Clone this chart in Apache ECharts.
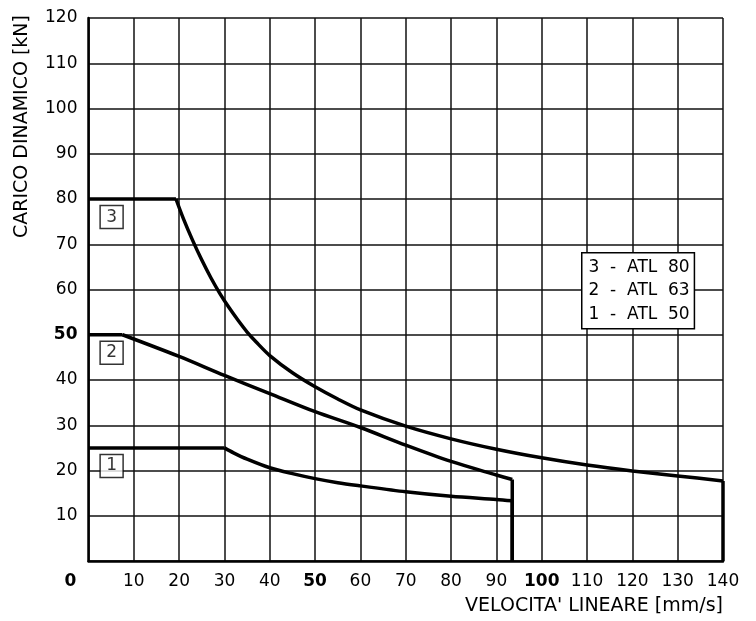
<!DOCTYPE html>
<html>
<head>
<meta charset="utf-8">
<script src="https://cdn.jsdelivr.net/npm/echarts@6/dist/echarts.min.js"></script>
<style>
html,body{margin:0;padding:0;background:#fff;}
#main{width:756px;height:621px;}
</style>
</head>
<body>
<div id="main"></div>
<script>
// valori
var boldTicks = [0, 50, 100];
var legendLines = ['3  -  ATL  80', '2  -  ATL  63', '1  -  ATL  50'];

// ATL 80
var flat3 = 80, knee3 = 19.3, vmax3 = 140;
var v3 = [19.3, 21, 23, 25, 27, 29, 31, 33, 35, 37, 40, 45, 50, 55, 60, 70, 80, 90, 100, 110, 120, 130, 140];
var f3 = [80, 75.5, 70.8, 66.5, 62.6, 59.1, 56, 53.2, 50.6, 48.4, 45.4, 41.6, 38.5, 35.8, 33.4, 29.8, 27, 24.7, 22.8, 21.2, 19.9, 18.8, 17.7];
// ATL 63
var flat2 = 50, knee2 = 7.5, vmax2 = 93.5;
var v2 = [7.5, 20, 30, 40, 50, 60, 70, 80, 90, 93.5];
var f2 = [50, 45.2, 41, 37, 33, 29.5, 25.6, 22, 19, 18];
// ATL 50
var flat1 = 25, knee1 = 30, vmax1 = 93.5;
var v1 = [30, 32, 35, 40, 45, 50, 55, 60, 70, 80, 90, 93.5];
var f1 = [25, 23.9, 22.5, 20.6, 19.3, 18.2, 17.3, 16.6, 15.3, 14.3, 13.6, 13.3];

// etichette 1-2-3
var tagX = [5.1, 5.1, 5.1];
var tagY = [21, 46, 76];
var tagText = ['1', '2', '3'];

var FONT = 'DejaVu Sans';
var chart = echarts.init(document.getElementById('main'));

function pairs(xs, ys){
	var out = [];
	for(var i=0;i<xs.length;i++){
		out.push([xs[i], ys[i]]);
	}
	return out;
}

var lineStyle = {color:'#000', width:3.5};
function seg(data, smooth){
	return {
		type:'line', data:data, symbol:'none', smooth:smooth || false,
		lineStyle:lineStyle, z:5, silent:true
	};
}

var series = [];
// profilo 3
series.push(seg([[0, flat3], [knee3, flat3]]));
series.push(seg(pairs(v3, f3), 0.3));
series.push(seg([[vmax3, f3[f3.length-1]], [vmax3, 0]]));
// profilo 2
series.push(seg([[0, flat2], [knee2, flat2]]));
series.push(seg(pairs(v2, f2), 0.3));
series.push(seg([[vmax2, f2[f2.length-1]], [vmax2, 0]]));
// profilo 1
series.push(seg([[0, flat1], [knee1, flat1]]));
series.push(seg(pairs(v1, f1), 0.3));
series.push(seg([[vmax1, f1[f1.length-1]], [vmax1, 0]]));

var tags = [];
for(var i=0;i<tagX.length;i++){
	tags.push([tagX[i], tagY[i], tagText[i]]);
}
series.push({
	type:'scatter', data:tags, symbol:'rect', symbolSize:[23,23], z:6, silent:true,
	itemStyle:{color:'#fff', borderColor:'#000', borderWidth:1.5},
	label:{show:true, position:'inside', color:'#000', fontFamily:FONT, fontSize:17,
		formatter:function(p){ return p.data[2]; }}
});

var option = {
	animation:false,
	backgroundColor:'#fff',
	grid:{left:88.5, right:33, top:18, bottom:60},
	xAxis:{
		type:'value', min:0, max:140, interval:10,
		axisLine:{lineStyle:{color:'#000', width:2.5}},
		axisTick:{show:false},
		splitLine:{lineStyle:{color:'#111', width:1.5}},
		axisLabel:{
			margin:12, color:'#000', fontFamily:FONT, fontSize:17,
			formatter:function(v){
				if(v === 0){ return '{z|0}'; }
				if(boldTicks.indexOf(v) >= 0){ return '{b|' + v + '}'; }
				return '' + v;
			},
			rich:{
				z:{fontWeight:'bold', fontFamily:FONT, fontSize:17, color:'#000', padding:[0,36,0,0]},
				b:{fontWeight:'bold', fontFamily:FONT, fontSize:17, color:'#000'}
			}
		}
	},
	yAxis:{
		type:'value', min:0, max:120, interval:10,
		axisLine:{show:true, lineStyle:{color:'#000', width:2.5}},
		axisTick:{show:false},
		splitLine:{lineStyle:{color:'#111', width:1.5}},
		axisLabel:{
			margin:11, color:'#000', fontFamily:FONT, fontSize:17,
			formatter:function(v){
				if(v === 0){ return ''; }
				if(v === 50){ return '{b|50}'; }
				return '' + v;
			},
			rich:{b:{fontWeight:'bold', fontFamily:FONT, fontSize:17, color:'#000'}}
		}
	},
	graphic:[
		{
			type:'text', left:13, top:15, rotation:Math.PI/2,
			style:{text:'CARICO DINAMICO [kN]', font:'19px "DejaVu Sans"', fill:'#000'}
		},
		{
			type:'text', right:33, top:597,
			style:{text:"VELOCITA' LINEARE [mm/s]", font:'19px "DejaVu Sans"', fill:'#000'}
		},
		{
			type:'text', left:581, top:252, z:10,
			style:{
				text:legendLines.join('\n'), font:'17px "DejaVu Sans"', fill:'#000',
				lineHeight:23.5, padding:[2,4,2,6],
				backgroundColor:'#fff', borderColor:'#000', borderWidth:1.5
			}
		}
	],
	series:series
};
chart.setOption(option);
</script>
</body>
</html>
